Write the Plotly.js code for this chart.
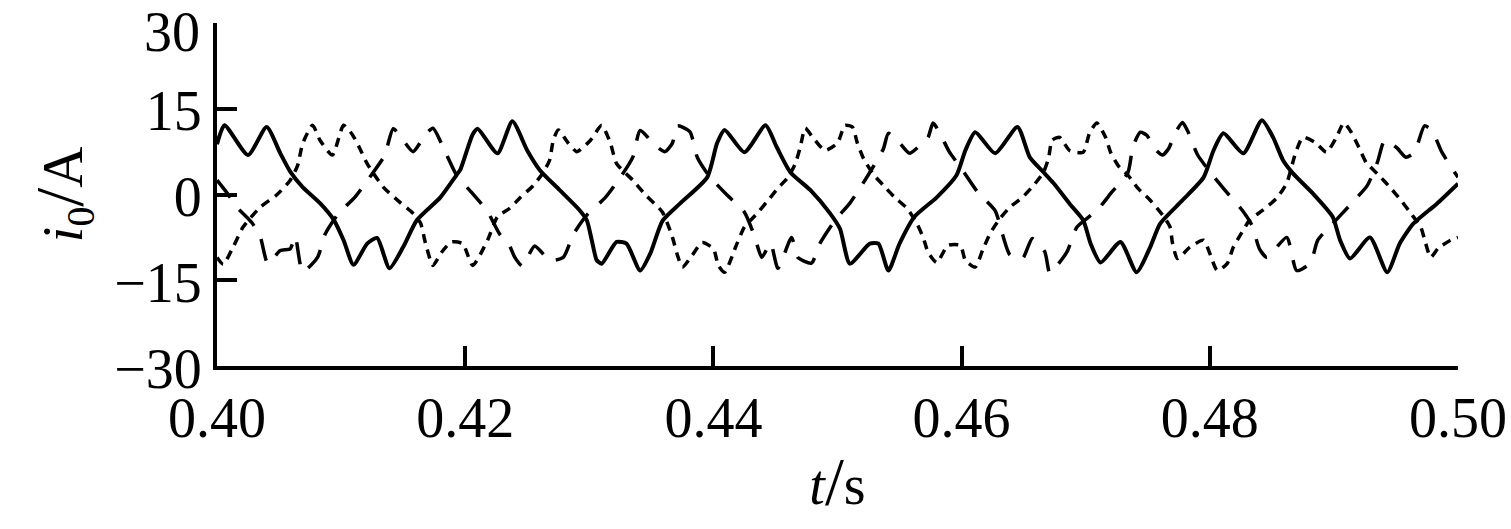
<!DOCTYPE html>
<html>
<head>
<meta charset="utf-8">
<script src="https://cdn.plot.ly/plotly-3.0.1.min.js"></script>
<style>
html,body{margin:0;padding:0;background:#fff;}
#chart{width:1511px;height:529px;}
</style>
</head>
<body>
<div id="chart"></div>
<script>
// Phase current (solid)
const tA = [0.4000,0.4006,0.4025,0.4040,0.4051,0.4059,0.4069,0.4083,0.4094,0.4102,0.4110,0.4121,0.4129,0.4139,0.4150,0.4161,0.4180,0.4193,0.4196,0.4206,0.4210,0.4226,0.4238,0.4250,0.4260,0.4276,0.4292,0.4298,0.4302,0.4306,0.4310,0.4322,0.4330,0.4341,0.4349,0.4359,0.4373,0.4395,0.4403,0.4409,0.4425,0.4442,0.4451,0.4462,0.4478,0.4494,0.4502,0.4510,0.4526,0.4533,0.4541,0.4550,0.4562,0.4580,0.4596,0.4603,0.4611,0.4627,0.4645,0.4655,0.4666,0.4674,0.4687,0.4698,0.4704,0.4712,0.4728,0.4741,0.4752,0.4760,0.4778,0.4795,0.4803,0.4811,0.4827,0.4842,0.4851,0.4859,0.4867,0.4883,0.4899,0.4905,0.4913,0.4929,0.4943,0.4953,0.4964,0.4983,0.5000];
const iA = [8.8,12.1,6.9,11.8,7.2,4.0,1.3,-1.5,-4.4,-8.0,-12.3,-8.6,-7.6,-12.9,-9.2,-4.5,-0.5,3.4,4.3,10.5,11.5,7.2,12.8,7.7,4.3,0.8,-2.7,-4.5,-8.0,-11.5,-12.1,-8.3,-8.6,-13.3,-10.4,-4.6,-1.6,3.0,9.0,11.3,7.4,12.1,8.3,3.9,0.8,-3.3,-6.0,-12.1,-8.6,-8.6,-13.3,-8.6,-3.9,-0.5,3.4,7.7,10.9,7.2,11.8,6.5,3.9,2.0,-1.6,-4.5,-8.6,-11.9,-8.3,-13.6,-9.2,-5.1,-1.0,3.0,7.7,10.7,7.2,13.0,10.0,6.0,3.7,0.2,-3.9,-8.0,-11.2,-7.5,-13.6,-8.6,-5.1,-1.6,1.9];

// Phase current (short dashes)
const tB = [0.4000,0.4005,0.4013,0.4021,0.4035,0.4048,0.4059,0.4065,0.4069,0.4077,0.4083,0.4093,0.4102,0.4109,0.4115,0.4121,0.4134,0.4147,0.4158,0.4164,0.4168,0.4174,0.4181,0.4189,0.4198,0.4206,0.4218,0.4226,0.4236,0.4244,0.4255,0.4263,0.4268,0.4271,0.4275,0.4283,0.4290,0.4301,0.4310,0.4317,0.4322,0.4335,0.4345,0.4359,0.4367,0.4371,0.4375,0.4383,0.4391,0.4400,0.4404,0.4409,0.4419,0.4425,0.4434,0.4443,0.4452,0.4460,0.4466,0.4470,0.4474,0.4480,0.4490,0.4500,0.4506,0.4512,0.4516,0.4521,0.4529,0.4537,0.4546,0.4556,0.4564,0.4569,0.4573,0.4580,0.4589,0.4599,0.4603,0.4611,0.4617,0.4623,0.4631,0.4639,0.4649,0.4658,0.4666,0.4670,0.4673,0.4679,0.4687,0.4698,0.4703,0.4709,0.4716,0.4720,0.4726,0.4734,0.4742,0.4752,0.4762,0.4768,0.4770,0.4774,0.4784,0.4795,0.4800,0.4806,0.4814,0.4819,0.4826,0.4832,0.4843,0.4854,0.4862,0.4869,0.4875,0.4885,0.4894,0.4902,0.4908,0.4914,0.4920,0.4926,0.4936,0.4945,0.4954,0.4962,0.4970,0.4974,0.4978,0.4984,0.4994,0.5000];
const iB = [-11.0,-12.2,-9.2,-5.7,-2.2,-0.1,2.5,5.1,8.9,12.1,9.5,6.9,12.1,10.5,8.1,5.4,1.3,-1.3,-3.3,-5.0,-8.5,-12.4,-10.1,-8.3,-8.6,-12.4,-8.0,-3.9,-2.4,-0.6,1.6,3.9,6.0,9.5,11.3,9.0,7.5,9.5,12.1,9.0,5.4,2.5,0.0,-3.1,-7.5,-10.6,-12.7,-10.6,-8.4,-9.5,-12.4,-13.6,-8.6,-5.7,-3.6,-1.3,1.1,3.0,5.4,8.3,11.6,10.0,7.7,9.0,12.1,11.8,9.0,6.3,3.5,1.6,-0.5,-2.4,-5.1,-7.5,-10.1,-11.9,-8.9,-8.9,-11.5,-12.7,-9.7,-6.8,-4.2,-2.2,-0.5,1.6,3.9,6.3,9.5,10.0,7.7,7.4,10.7,12.5,10.0,7.4,5.1,3.4,1.1,-1.0,-3.6,-5.7,-8.6,-11.2,-9.2,-8.0,-10.3,-13.3,-12.1,-9.2,-6.6,-4.5,-2.7,-0.6,2.0,7.2,10.0,9.1,7.4,10.0,12.5,10.9,8.3,5.6,3.4,1.3,-1.0,-3.3,-5.7,-8.6,-11.0,-9.4,-8.0,-7.5];

// Phase current (long dashes)
const tC = [0.4000,0.4009,0.4015,0.4028,0.4035,0.4041,0.4051,0.4059,0.4063,0.4069,0.4081,0.4087,0.4098,0.4111,0.4123,0.4135,0.4142,0.4150,0.4158,0.4168,0.4174,0.4184,0.4193,0.4205,0.4218,0.4228,0.4235,0.4240,0.4246,0.4256,0.4268,0.4279,0.4287,0.4298,0.4313,0.4325,0.4335,0.4341,0.4353,0.4361,0.4367,0.4371,0.4381,0.4387,0.4396,0.4411,0.4425,0.4433,0.4439,0.4446,0.4452,0.4463,0.4468,0.4479,0.4486,0.4498,0.4510,0.4525,0.4537,0.4541,0.4550,0.4558,0.4566,0.4573,0.4577,0.4583,0.4590,0.4600,0.4613,0.4627,0.4633,0.4639,0.4649,0.4657,0.4667,0.4671,0.4677,0.4685,0.4693,0.4709,0.4721,0.4734,0.4738,0.4744,0.4749,0.4757,0.4762,0.4767,0.4772,0.4778,0.4782,0.4790,0.4800,0.4812,0.4826,0.4834,0.4840,0.4846,0.4862,0.4870,0.4881,0.4887,0.4899,0.4914,0.4927,0.4935,0.4941,0.4951,0.4958,0.4965,0.4973,0.4979,0.4987,0.5000];
const iC = [2.5,0.0,-2.0,-4.9,-7.5,-12.1,-9.8,-9.5,-7.3,-13.5,-11.0,-7.0,-3.3,-0.5,3.0,6.8,11.5,9.5,7.5,10.5,11.6,7.4,3.4,0.4,-3.0,-7.0,-8.6,-11.0,-12.5,-9.0,-11.5,-11.0,-7.0,-3.6,-0.5,3.0,6.5,11.2,8.6,7.5,9.0,12.0,11.0,6.5,3.4,-0.1,-3.1,-7.2,-11.0,-8.5,-12.9,-7.5,-11.0,-12.0,-8.5,-4.5,-1.5,3.5,8.0,10.7,9.0,7.2,8.5,10.0,12.5,10.5,7.5,4.5,0.4,-2.8,-7.0,-10.6,-11.2,-7.7,-10.0,-13.7,-12.4,-10.0,-5.7,-2.8,0.4,3.8,8.3,10.9,10.4,7.7,6.9,8.1,10.7,12.6,11.2,7.0,4.0,0.8,-2.7,-5.4,-9.5,-11.0,-7.5,-13.3,-12.0,-8.0,-5.1,-1.6,1.6,5.6,9.5,8.1,6.5,7.4,12.0,11.2,7.4,3.0];

const xTicks = [0.40,0.42,0.44,0.46,0.48,0.50];
const xTickText = ['0.40','0.42','0.44','0.46','0.48','0.50'];
const yTicks = [-30,-15,0,15,30];
const yTickText = ['\u221230','\u221215','0','15',''];
const yTopLabel = '30';

const serif = 'Liberation Serif, Times New Roman, serif';

const traces = [
  {x:tA, y:iA, mode:'lines', line:{color:'#000', width:4, shape:'spline', smoothing:0.6}, showlegend:false},
  {x:tB, y:iB, mode:'lines', line:{color:'#000', width:3.5, dash:'9px,7px', shape:'spline', smoothing:0.6}, showlegend:false},
  {x:tC, y:iC, mode:'lines', line:{color:'#000', width:3.5, dash:'22px,15px', shape:'spline', smoothing:0.6}, showlegend:false}
];

const layout = {
  width:1511, height:529,
  margin:{l:217, r:53, t:23, b:163},
  paper_bgcolor:'#fff', plot_bgcolor:'#fff',
  font:{family:serif, color:'#000', size:56},
  xaxis:{
    range:[0.40,0.50], tickvals:xTicks, ticktext:xTickText,
    showgrid:false, zeroline:false, showline:true, linecolor:'#000', linewidth:4,
    ticks:'inside', ticklen:20, tickwidth:4, tickcolor:'#000',
    tickfont:{family:serif, size:56, color:'#000'},
    ticklabeloverflow:'allow',
    title:{text:'<i>t</i><span style="font-size:68px">/</span>s', font:{family:serif, size:56, color:'#000'}, standoff:18}
  },
  yaxis:{
    range:[-30,30], tickvals:yTicks, ticktext:yTickText,
    showgrid:false, zeroline:false, showline:true, linecolor:'#000', linewidth:4,
    ticks:'inside', ticklen:20, tickwidth:4, tickcolor:'#000',
    tickfont:{family:serif, size:56, color:'#000'},
    ticklabeloverflow:'allow', ticklabelshift:2,
    title:{text:'<i>i</i><sub>0</sub><span style="font-size:68px">/</span>A', font:{family:serif, size:57, color:'#000'}, standoff:14}
  },
  annotations:[
    {text:yTopLabel, xref:'paper', yref:'y', x:0, y:30, xanchor:'right', yanchor:'middle',
     xshift:-15, yshift:-9, showarrow:false, font:{family:serif, size:56, color:'#000'}}
  ]
};

Plotly.newPlot('chart', traces, layout, {displayModeBar:false, staticPlot:true});
</script>
</body>
</html>
